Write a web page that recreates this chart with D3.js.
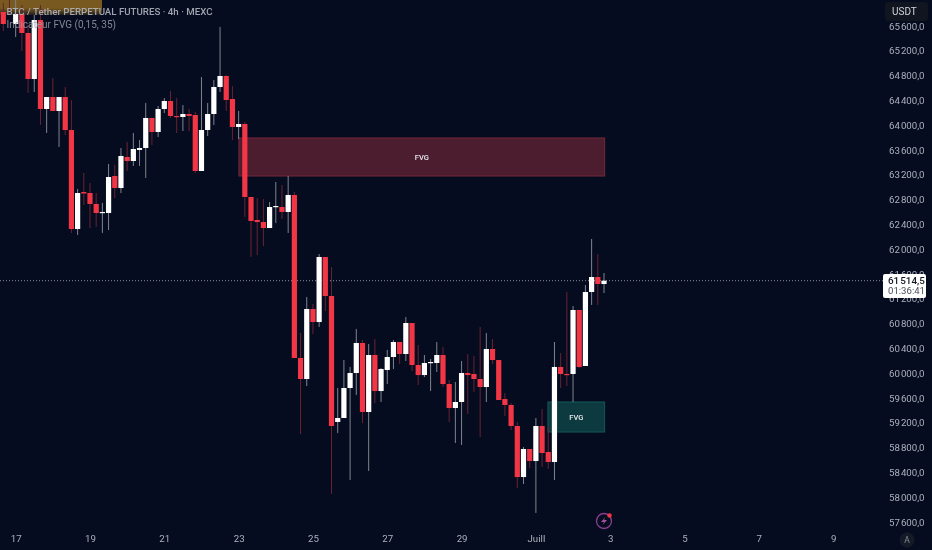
<!DOCTYPE html>
<html>
<head>
<meta charset="utf-8">
<script src="https://cdn.jsdelivr.net/npm/d3@7"></script>
<style>
  html, body { margin: 0; padding: 0; background: #060c1f; overflow: hidden; }
  svg { display: block; filter: blur(0.35px); }
  text { font-family: Roboto, sans-serif; }
  .axis path, .axis line { display: none; }
  .axis text { fill: #aab0bb; font-size: 9.7px; font-family: Roboto, sans-serif; }
</style>
</head>
<body>
<script>
// 4h candles, prices
var opens = [
  65848, 66300, 65655, 65816, 65510, 64768, 65719, 64284, 64477, 64252,
  64477, 63945, 62348, 62945, 62929, 62752, 62606, 62606, 63203, 63010,
  63510, 63445, 63623, 63655, 64139, 63913, 64284, 64413, 64171, 64155,
  64203, 64187, 63284, 63945, 64203, 64639, 64816, 64445, 63994, 64042,
  62865, 62494, 62461, 62364, 62703, 62703, 62623, 62897, 60268, 59929,
  61058, 60848, 61897, 61268, 59236, 59300, 59784, 60026, 60510, 59397,
  60316, 59735, 60074, 60284, 60526, 60332, 60832, 60155, 59993, 60187,
  60187, 60316, 59848, 59461, 59558, 60026, 60010, 59929, 59800, 60413,
  60235, 59606, 59510, 59171, 58348, 58800, 58606, 59171, 58752, 58590,
  60123, 60010, 60010, 61042, 60139, 61332, 61574, 61461
];
var closes = [
  65655, 66150, 65816, 65510, 64768, 65719, 64284, 64477, 64252, 64477,
  63945, 62348, 62929, 62921, 62752, 62606, 62623, 63187, 63010, 63526,
  63445, 63639, 63655, 64139, 63913, 64284, 64413, 64171, 64155, 64203,
  64171, 63284, 63945, 64203, 64639, 64816, 64429, 63994, 64042, 62865,
  62478, 62461, 62364, 62703, 62719, 62623, 62897, 60268, 59929, 61058,
  60848, 61897, 61268, 59171, 59300, 59784, 60026, 60510, 59397, 60316,
  59735, 60090, 60284, 60526, 60332, 60832, 60155, 59993, 60187, 60203,
  60316, 59848, 59461, 59558, 60026, 59993, 59929, 59800, 60413, 60235,
  59590, 59510, 59171, 58348, 58800, 58606, 59171, 58735, 58590, 60123,
  60010, 59993, 61042, 60123, 61332, 61574, 61461, 61514.5
];
var highs = [
  65994, 66400, 66042, 65961, 65639, 65800, 65961, 64477, 64784, 64477,
  64639, 64429, 62994, 63252, 63090, 62929, 62768, 63397, 63381, 63655,
  63752, 63897, 63784, 64381, 64139, 64332, 64461, 64574, 64461, 64348,
  64284, 64236, 64800, 64381, 64752, 65607, 64832, 64655, 64252, 64074,
  62865, 62848, 62832, 62784, 63106, 63058, 63203, 62945, 60671, 61252,
  61139, 61945, 61897, 61735, 59784, 60235, 60123, 60736, 60558, 60494,
  60574, 60106, 60397, 60558, 60526, 60929, 60832, 60477, 60316, 60251,
  60526, 60445, 59913, 59881, 60219, 60332, 60300, 60768, 60671, 60574,
  60235, 59703, 59542, 59236, 58832, 58800, 59300, 59445, 59155, 60526,
  60348, 61332, 61106, 61042, 61445, 62187, 61945, 61639
];
var lows = [
  65542, 65816, 65445, 65219, 64542, 64558, 64026, 63897, 64252, 63671,
  63865, 62284, 62252, 62735, 62364, 62381, 62284, 62332, 62848, 62929,
  63284, 63365, 63365, 63171, 63703, 63832, 64219, 64139, 63897, 63929,
  63929, 63252, 63284, 63848, 64026, 64558, 64252, 63784, 63800, 62542,
  61897, 61929, 62074, 62364, 62445, 62510, 62284, 60268, 59042, 59816,
  60655, 60768, 61026, 58074, 59058, 59300, 58300, 59671, 59219, 58445,
  59542, 59558, 59848, 60090, 60171, 60219, 60058, 59832, 59961, 59735,
  60042, 59800, 59236, 58897, 58865, 59365, 59719, 58993, 59558, 60171,
  59590, 59332, 59106, 58171, 58235, 58494, 57768, 58510, 58477, 58300,
  59784, 59816, 59558, 60106, 60139, 61123, 61123, 61316
];

var priceTicks = [65600, 65200, 64800, 64400, 64000, 63600, 63200, 62800, 62400, 62000,
  61600, 61200, 60800, 60400, 60000, 59600, 59200, 58800, 58400, 58000, 57600];
var dayBars = [2, 14, 26, 38, 50, 62, 74, 86, 98, 110, 122, 134];
var dayLabels = ['17', '19', '21', '23', '25', '27', '29', 'Juill', '3', '5', '7', '9'];

var lastPrice = 61514.5;
var countdown = '01:36:41';

var gapNames = ['FVG', 'FVG'];
var gapStart = [38.05, 87.95];
var gapEnd = [97.1, 97.1];
var gapTop = [63816, 59558];
var gapBottom = [63203, 59074];
var gapFill = ['#4c1d2e', '#0c3a3f'];
var gapStroke = ['#74293a', '#125a58'];

var width = 932, height = 550;
var up = '#ffffff', down = '#f23645';
var upWick = '#80848e', downWick = '#6a2233';

var x = d3.scaleLinear().domain([0, 97]).range([3.3, 604]);
var y = d3.scaleLinear().domain([65600, 57600]).range([27.4, 523.4]);

var svg = d3.select('body').append('svg')
  .attr('width', width)
  .attr('height', height);

var isUp = function(i) { return closes[i] >= opens[i]; };
var bars = d3.range(opens.length);

// brown strip behind the header, fades out downwards
var fade = svg.append('defs').append('linearGradient')
  .attr('id', 'strip')
  .attr('x1', 0).attr('x2', 0).attr('y1', 0).attr('y2', 1);
fade.append('stop').attr('offset', 0.55).attr('stop-color', '#78591f');
fade.append('stop').attr('offset', 1).attr('stop-color', '#78591f').attr('stop-opacity', 0.25);

svg.append('rect')
  .attr('x', 0)
  .attr('y', 0)
  .attr('width', 102)
  .attr('height', 15)
  .attr('fill', 'url(#strip)');

// dotted line at the last price
svg.append('line')
  .attr('x1', 0)
  .attr('x2', 884)
  .attr('y1', y(lastPrice))
  .attr('y2', y(lastPrice))
  .attr('stroke', '#8b8f9a')
  .attr('stroke-width', 1)
  .attr('stroke-dasharray', '1 2');

// FVG boxes
svg.selectAll('.gap')
  .data(gapNames)
  .enter()
  .append('rect')
  .attr('class', 'gap')
  .attr('x', function(d, i) { return x(gapStart[i]); })
  .attr('y', function(d, i) { return y(gapTop[i]); })
  .attr('width', function(d, i) { return x(gapEnd[i]) - x(gapStart[i]); })
  .attr('height', function(d, i) { return y(gapBottom[i]) - y(gapTop[i]); })
  .attr('fill', function(d, i) { return gapFill[i]; })
  .attr('stroke', function(d, i) { return gapStroke[i]; });

svg.selectAll('.gap-label')
  .data(gapNames)
  .enter()
  .append('text')
  .attr('class', 'gap-label')
  .attr('x', function(d, i) { return (x(gapStart[i]) + x(gapEnd[i])) / 2; })
  .attr('y', function(d, i) { return (y(gapTop[i]) + y(gapBottom[i])) / 2; })
  .attr('dy', '0.35em')
  .attr('text-anchor', 'middle')
  .attr('font-size', 7.5)
  .attr('font-weight', 500)
  .attr('fill', '#e6e8ec')
  .text(function(d) { return d; });

// candles
svg.selectAll('.wick')
  .data(bars)
  .enter()
  .append('line')
  .attr('class', 'wick')
  .attr('x1', function(i) { return x(i); })
  .attr('x2', function(i) { return x(i); })
  .attr('y1', function(i) { return y(highs[i]); })
  .attr('y2', function(i) { return y(lows[i]); })
  .attr('stroke', function(i) { return isUp(i) ? upWick : downWick; })
  .attr('stroke-width', 1);

svg.selectAll('.body')
  .data(bars)
  .enter()
  .append('rect')
  .attr('class', 'body')
  .attr('x', function(i) { return x(i) - 2.6; })
  .attr('width', 5.2)
  .attr('y', function(i) { return y(Math.max(opens[i], closes[i])); })
  .attr('height', function(i) { return Math.max(1.2, Math.abs(y(opens[i]) - y(closes[i]))); })
  .attr('fill', function(i) { return isUp(i) ? up : down; });

// axes
var fr = d3.formatLocale({ decimal: ',', thousands: '\u200a', grouping: [3], currency: ['', ''] });
var priceFormat = fr.format(',.1f');

var yAxis = d3.axisRight(y)
  .tickValues(priceTicks)
  .tickSize(0)
  .tickPadding(0)
  .tickFormat(priceFormat);

svg.append('g')
  .attr('class', 'axis')
  .attr('transform', 'translate(889,-1.4)')
  .call(yAxis);

var xAxis = d3.axisBottom(x)
  .tickValues(dayBars)
  .tickSize(0)
  .tickPadding(0)
  .tickFormat(function(d, i) { return dayLabels[i]; });

svg.append('g')
  .attr('class', 'axis')
  .attr('transform', 'translate(0,535.3)')
  .call(xAxis);

// last price tag
svg.append('rect')
  .attr('x', 883)
  .attr('y', 274)
  .attr('width', 43)
  .attr('height', 24)
  .attr('rx', 2)
  .attr('fill', '#ffffff');

svg.append('text')
  .attr('x', 888)
  .attr('y', 283.5)
  .attr('font-size', 9.9)
  .attr('font-weight', 500)
  .attr('fill', '#131722')
  .text(priceFormat(lastPrice));

svg.append('text')
  .attr('x', 888)
  .attr('y', 293.5)
  .attr('font-size', 9.6)
  .attr('fill', '#4a4f5c')
  .text(countdown);

// currency button
svg.append('rect')
  .attr('x', 885)
  .attr('y', 2)
  .attr('width', 43)
  .attr('height', 19)
  .attr('rx', 3)
  .attr('fill', '#11151f');

svg.append('text')
  .attr('x', 892)
  .attr('y', 15.3)
  .attr('font-size', 10)
  .attr('fill', '#d1d4dc')
  .text('USDT');

// header
svg.append('text')
  .attr('x', 6.5)
  .attr('y', 15)
  .attr('font-size', 9.7)
  .attr('font-weight', 500)
  .attr('fill', '#b2b5be')
  .attr('fill-opacity', 0.9)
  .text('BTC / Tether PERPETUAL FUTURES \u00b7 4h \u00b7 MEXC');

svg.append('text')
  .attr('x', 6.5)
  .attr('y', 27.5)
  .attr('font-size', 10)
  .attr('fill', '#9a9ea8')
  .attr('fill-opacity', 0.85)
  .text('Indicateur FVG (0,15, 35)');

// small badge near the time axis
var badge = svg.append('g').attr('transform', 'translate(604,521)');
badge.append('circle')
  .attr('r', 7.5)
  .attr('fill', 'none')
  .attr('stroke', '#8a3f8f')
  .attr('stroke-width', 1.3);
badge.append('path')
  .attr('d', 'M1.5,-4 L-3,1 L0,1 L-1.5,4 L3,-1 L0,-1 Z')
  .attr('fill', '#a5509f');
badge.append('circle')
  .attr('cx', 5.5)
  .attr('cy', -5.5)
  .attr('r', 2.2)
  .attr('fill', '#f23645');

// auto scale button
svg.append('circle')
  .attr('cx', 907)
  .attr('cy', 540)
  .attr('r', 7.5)
  .attr('fill', '#151a28');

svg.append('text')
  .attr('x', 907)
  .attr('y', 543)
  .attr('text-anchor', 'middle')
  .attr('font-size', 8.5)
  .attr('fill', '#8a8f9a')
  .text('A');
</script>
</body>
</html>
